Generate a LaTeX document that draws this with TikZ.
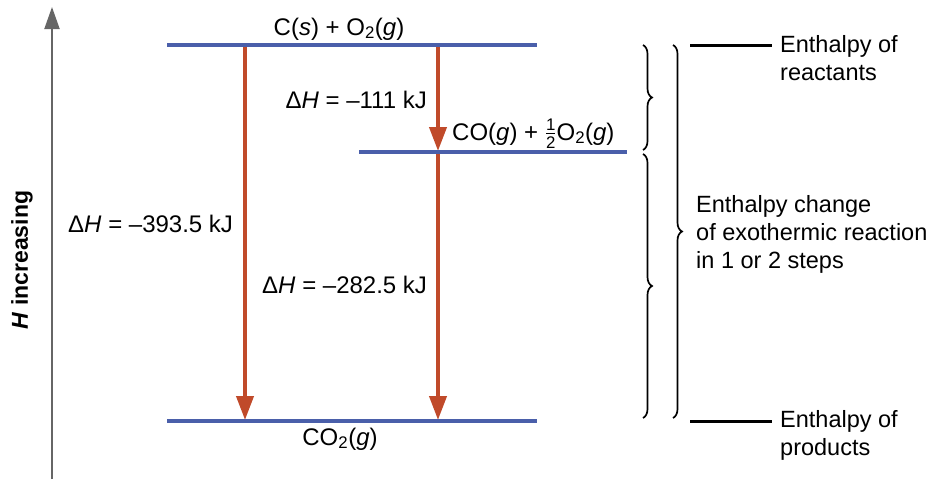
\documentclass[tikz,border=0pt]{standalone}
\usepackage{amsmath}
\usepackage{fontspec}
\setmainfont{Liberation Sans}
\usetikzlibrary{arrows.meta,decorations.pathreplacing}
\definecolor{lvlblue}{HTML}{4A5FAA}
\definecolor{arrred}{HTML}{C04A2A}
\definecolor{axisgray}{HTML}{666666}
\begin{document}
\begin{tikzpicture}[x=1pt,y=-1pt,
  level/.style={draw=lvlblue,line width=4.5pt},
  rarrow/.style={draw=arrred,line width=4pt,-{Triangle[width=17pt,length=24pt]}},
  lbl/.style={inner sep=0pt,font=\fontsize{24}{29}\selectfont},
  side/.style={inner sep=0pt,font=\fontsize{23.5}{28}\selectfont,align=left,anchor=north west},
  bracestyle/.style={draw=black,line width=1.7pt,decorate,decoration={brace,amplitude=9pt}},
  marker/.style={draw=black,line width=3pt}]
\useasboundingbox (0,0) rectangle (933,479);
% axis
\coordinate (ax0) at (52,479);
\coordinate (ax1) at (52,7);
\draw[axisgray,line width=2pt,-{Triangle[width=15pt,length=22pt]}] (ax0) -- (ax1);
\node[rotate=90,inner sep=0pt,font=\bfseries\fontsize{23}{28}\selectfont] (hinc) at (22,260) {\textit{H} increasing};
% coordinates
\coordinate (topl) at (167,45);  \coordinate (topr) at (537,45);
\coordinate (midl) at (359,152); \coordinate (midr) at (627,152);
\coordinate (botl) at (167,421); \coordinate (botr) at (537,421);
\coordinate (a1s) at (245,45);  \coordinate (a1e) at (245,420);
\coordinate (a2s) at (438,45);  \coordinate (a2e) at (438,151);
\coordinate (a3s) at (438,152); \coordinate (a3e) at (438,420);
% arrows
\draw[rarrow] (a1s) -- (a1e);
\draw[rarrow] (a2s) -- (a2e);
\draw[rarrow] (a3s) -- (a3e);
% levels
\draw[level] (topl) -- (topr);
\draw[level] (midl) -- (midr);
\draw[level] (botl) -- (botr);
% labels
\node[lbl,anchor=base] (react) at (339,35) {C(\textit{s}) + O\textsubscript{2}(\textit{g})};
\node[lbl,anchor=base east] (dh1) at (427,108) {Δ\textit{H} = –111 kJ};
\node[lbl,anchor=base west] (inter) at (452,140) {CO(\textit{g}) + \(\frac{\text{1}}{\text{2}}\)O\textsubscript{2}(\textit{g})};
\node[lbl,anchor=base west] (dh0) at (68,232) {Δ\textit{H} = –393.5 kJ};
\node[lbl,anchor=base west] (dh2) at (262,293) {Δ\textit{H} = –282.5 kJ};
\node[lbl,anchor=base] (prod) at (340,445) {CO\textsubscript{2}(\textit{g})};
% braces
\coordinate (b1t) at (643,45);  \coordinate (b1b) at (643,150);
\coordinate (b2t) at (643,154); \coordinate (b2b) at (643,418);
\coordinate (b3t) at (673,45);  \coordinate (b3b) at (673,418);
\draw[bracestyle] (b1t) -- (b1b);
\draw[bracestyle] (b2t) -- (b2b);
\draw[bracestyle] (b3t) -- (b3b);
% markers
\coordinate (m1a) at (690,45);  \coordinate (m1b) at (772,45);
\coordinate (m2a) at (690,421); \coordinate (m2b) at (772,421);
\draw[marker] (m1a) -- (m1b);
\draw[marker] (m2a) -- (m2b);
% side texts
\node[side] (ereact) at (780,35) {Enthalpy of\\reactants};
\node[side] (echange) at (696,195) {Enthalpy change\\of exothermic reaction\\in 1 or 2 steps};
\node[side] (eprod) at (780,410) {Enthalpy of\\products};
\end{tikzpicture}
\end{document}
